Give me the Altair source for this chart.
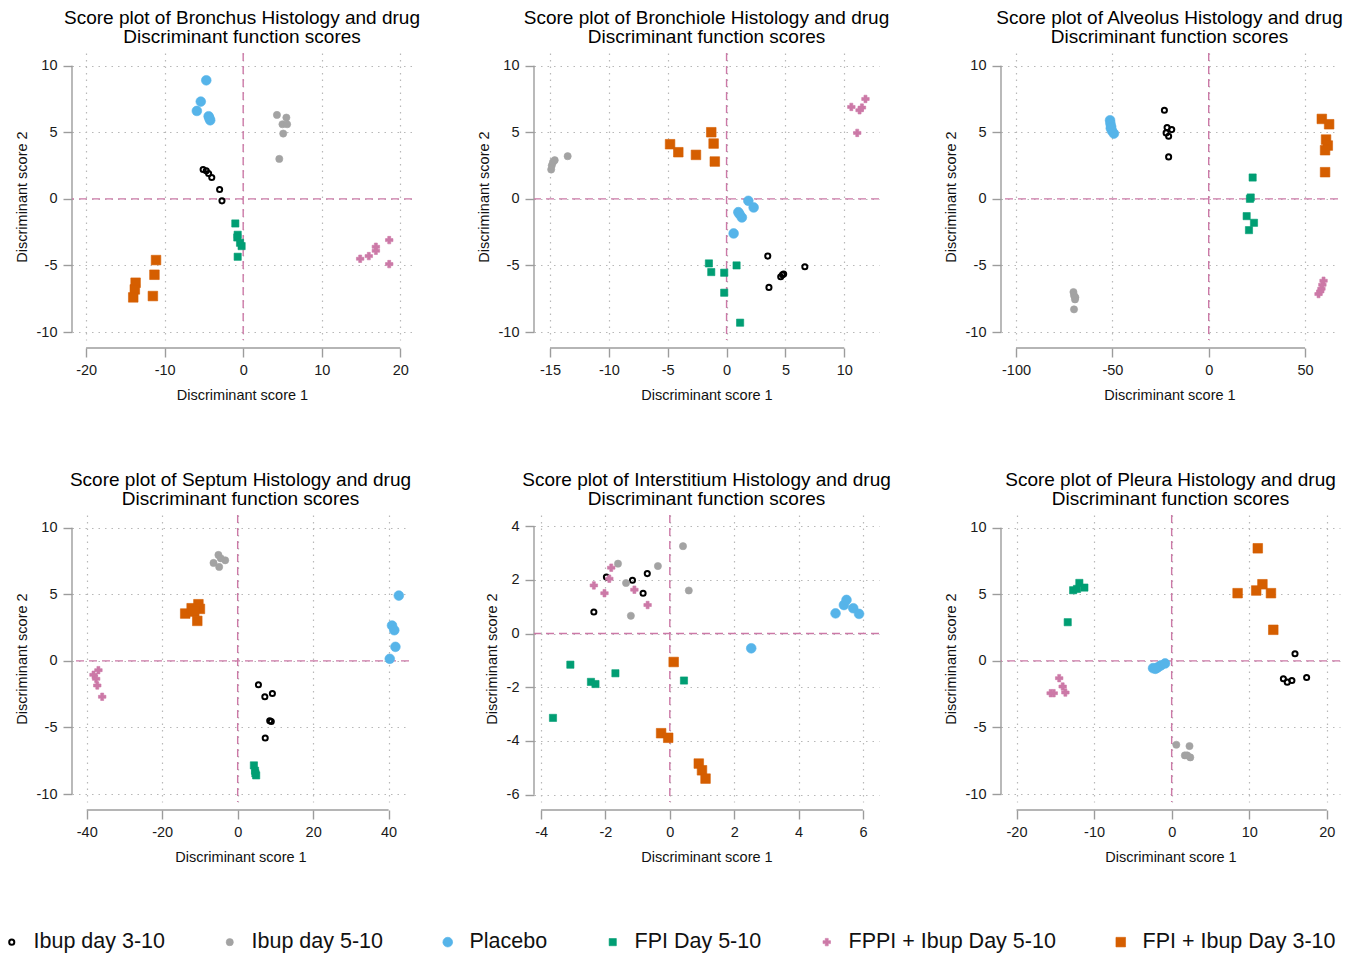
import altair as alt
import pandas as pd

# ---------------- groups / legend ----------------
GROUPS = ["Ibup day 3-10", "Ibup day 5-10", "Placebo", "FPI Day 5-10",
          "FPPI + Ibup Day 5-10", "FPI + Ibup Day 3-10"]
CODES = ["I3", "I5", "P", "F5", "FP", "FI"]
SHAPES = ["circle", "circle", "circle", "square", "cross", "square"]
FILLS = ["transparent", "#a3a3a3", "#56b4e9", "#009e73", "#cc79a7", "#d55e00"]
STROKES = ["#000000", "#a3a3a3", "#56b4e9", "#009e73", "#cc79a7", "#d55e00"]
SIZES = [26, 52, 95, 52, 56, 92]
STROKE_W = [2.0, 0.6, 0.6, 0.6, 0.6, 0.6]

# ---------------- data ----------------
bronchus_x = [-5.1, -4.7, -4.4, -4.0, -3.0, -2.7,
              4.3, 5.5, 5.0, 5.6, 5.1, 4.6,
              -4.7, -5.4, -5.9, -4.4, -4.2, -4.3,
              -1.0, -0.7, -0.75, -0.4, -0.2, -0.7,
              14.9, 16.0, 16.9, 16.9, 18.6, 18.6,
              -11.1, -11.3, -13.7, -13.8, -14.0, -11.5]
bronchus_y = [2.2, 2.1, 1.9, 1.6, 0.7, -0.15,
              6.3, 6.1, 5.6, 5.6, 4.9, 3.0,
              8.9, 7.3, 6.6, 6.2, 5.9, 6.05,
              -1.85, -2.7, -2.9, -3.3, -3.55, -4.35,
              -4.5, -4.3, -3.6, -3.9, -3.1, -4.9,
              -4.6, -5.7, -6.3, -6.8, -7.4, -7.3]
bronchus_g = ["I3"] * 6 + ["I5"] * 6 + ["P"] * 6 + ["F5"] * 6 + ["FP"] * 6 + ["FI"] * 6

bronchiole_x = [3.5, 3.6, 4.6, 4.75, 4.85, 6.65,
                -14.9, -14.85, -14.75, -14.6, -13.5,
                1.85, 2.3, 1.0, 1.3, 1.1, 0.6,
                -1.5, -1.3, -0.2, 0.85, -0.2, 1.15,
                10.6, 11.3, 11.5, 11.8, 11.1,
                -4.8, -4.1, -2.6, -1.3, -1.1, -1.0]
bronchiole_y = [-4.3, -6.65, -5.85, -5.7, -5.65, -5.1,
                2.2, 2.5, 2.75, 2.9, 3.2,
                -0.15, -0.65, -1.0, -1.4, -1.15, -2.6,
                -4.85, -5.5, -5.55, -5.0, -7.05, -9.3,
                6.9, 6.65, 6.85, 7.5, 4.95,
                4.1, 3.5, 3.3, 5.0, 4.15, 2.8]
bronchiole_g = ["I3"] * 6 + ["I5"] * 5 + ["P"] * 6 + ["F5"] * 6 + ["FP"] * 5 + ["FI"] * 6

alveolus_x = [-23.0, -21.6, -19.2, -22.1, -20.8, -20.8,
              -70.2, -69.9, -69.4, -69.2, -69.9,
              -51.2, -51.0, -50.6, -50.2, -49.2, -50.8,
              22.8, 21.8, 21.4, 19.7, 23.5, 20.9,
              59.6, 59.0, 58.5, 57.9, 57.0,
              58.7, 62.5, 60.9, 61.8, 60.4, 60.4]
alveolus_y = [6.65, 5.35, 5.2, 4.95, 4.7, 3.15,
              -7.0, -7.25, -7.55, -7.4, -8.3,
              5.9, 5.65, 5.4, 5.1, 4.9, 5.3,
              1.6, 0.1, 0.0, -1.3, -1.8, -2.35,
              -6.15, -6.45, -6.75, -6.95, -7.15,
              6.0, 5.6, 4.45, 4.0, 3.65, 2.0]
alveolus_g = ["I3"] * 6 + ["I5"] * 5 + ["P"] * 6 + ["F5"] * 6 + ["FP"] * 5 + ["FI"] * 6

septum_x = [5.5, 7.2, 9.2, 8.5, 8.9, 7.3,
            -5.1, -3.3, -6.4, -4.9, -4.5,
            42.7, 40.9, 41.5, 41.8, 40.3,
            4.3, 4.6, 4.9, 4.7,
            -36.9, -38.2, -37.5, -37.2, -35.9,
            -13.9, -12.2, -10.4, -10.0, -10.7, -11.5]
septum_y = [-1.8, -2.7, -2.45, -4.5, -4.55, -5.8,
            7.95, 7.55, 7.35, 7.05, 7.7,
            4.9, 2.65, 2.3, 1.05, 0.15,
            -7.85, -8.25, -8.6, -8.45,
            -0.7, -1.05, -1.35, -1.85, -2.7,
            3.55, 3.95, 4.25, 3.9, 3.0, 3.7]
septum_g = ["I3"] * 6 + ["I5"] * 5 + ["P"] * 5 + ["F5"] * 4 + ["FP"] * 5 + ["FI"] * 6

interstitium_x = [-2.36, -1.97, -1.16, -0.7, -0.83,
                  -1.61, 0.41, -0.37, -1.36, 0.59, -1.21,
                  5.15, 5.41, 5.49, 5.7, 5.88, 2.53,
                  -3.09, -3.63, -2.45, -2.31, -1.69, 0.44,
                  -2.36, -2.03, -1.82, -1.88, -1.1, -0.69,
                  0.12, -0.27, -0.05, 0.9, 1.0, 1.11]
interstitium_y = [0.8, 2.1, 1.98, 2.23, 1.5,
                  2.6, 3.25, 2.51, 1.88, 1.6, 0.66,
                  0.75, 1.06, 1.25, 0.94, 0.73, -0.55,
                  -1.16, -3.14, -1.8, -1.88, -1.48, -1.75,
                  1.79, 1.5, 2.45, 2.04, 1.63, 1.06,
                  -1.06, -3.71, -3.88, -4.84, -5.09, -5.4]
interstitium_g = ["I3"] * 5 + ["I5"] * 6 + ["P"] * 6 + ["F5"] * 6 + ["FP"] * 6 + ["FI"] * 6

pleura_x = [15.9, 14.4, 14.9, 15.5, 17.4,
            0.6, 2.3, 1.7, 2.4, 2.0,
            -2.4, -1.8, -1.4, -0.85, -2.1,
            -13.4, -12.7, -11.9, -11.25, -12.2,
            -14.5, -15.6, -15.2, -14.05, -13.7,
            11.1, 8.5, 10.9, 11.7, 12.8, 13.1]
pleura_y = [0.53, -1.35, -1.6, -1.48, -1.25,
            -6.3, -6.4, -7.1, -7.25, -7.1,
            -0.55, -0.5, -0.35, -0.2, -0.6,
            2.9, 5.3, 5.85, 5.5, 5.4,
            -1.3, -2.43, -2.43, -1.93, -2.38,
            8.45, 5.08, 5.28, 5.75, 5.08, 2.33]
pleura_g = ["I3"] * 5 + ["I5"] * 5 + ["P"] * 5 + ["F5"] * 5 + ["FP"] * 5 + ["FI"] * 6

# tick values per panel
ticks_y10 = [-10, -5, 0, 5, 10]
bronchus_xt = [-20, -10, 0, 10, 20]
bronchiole_xt = [-15, -10, -5, 0, 5, 10]
alveolus_xt = [-100, -50, 0, 50]
septum_xt = [-40, -20, 0, 20, 40]
interstitium_xt = [-4, -2, 0, 2, 4, 6]
interstitium_yt = [-6, -4, -2, 0, 2, 4]
pleura_xt = [-20, -10, 0, 10, 20]

# ---------------- style ----------------
FONT = "Liberation Sans"
AXIS_GRAY = "#9c9c9c"
GRID_GRAY = "#b8b8b8"
REF_PINK = "#cc79a7"
H = 287
XOFF = 8
MINUS = "replace(datum.label, '\u2212', '-')"


def panel(name, xs, ys, gs, xdom, xticks, ydom, yticks, width):
    df = pd.DataFrame({"x": xs, "y": ys,
                       "group": [GROUPS[CODES.index(c)] for c in gs]})
    one = pd.DataFrame({"k": [0]})
    xsc = alt.Scale(domain=xdom, nice=False, zero=False)
    ysc = alt.Scale(domain=ydom, nice=False, zero=False)
    xaxis = alt.Axis(values=xticks, title="Discriminant score 1", domain=False,
                     offset=XOFF, grid=True, tickSize=9, labelPadding=6,
                     titlePadding=12, labelExpr=MINUS)
    yaxis = alt.Axis(values=yticks, title="Discriminant score 2", domain=False,
                     grid=True, tickSize=9, labelPadding=6, titlePadding=7,
                     labelExpr=MINUS)
    leg = alt.Legend(title=None)
    pts = alt.Chart(df).mark_point(filled=True, opacity=1).encode(
        x=alt.X("x:Q", scale=xsc, axis=xaxis),
        y=alt.Y("y:Q", scale=ysc, axis=yaxis),
        shape=alt.Shape("group:N", scale=alt.Scale(domain=GROUPS, range=SHAPES), legend=leg, title=None),
        fill=alt.Fill("group:N", scale=alt.Scale(domain=GROUPS, range=FILLS), legend=leg, title=None),
        stroke=alt.Stroke("group:N", scale=alt.Scale(domain=GROUPS, range=STROKES), legend=leg, title=None),
        size=alt.Size("group:N", scale=alt.Scale(type="ordinal", domain=GROUPS, range=SIZES), legend=leg, title=None),
        strokeWidth=alt.StrokeWidth("group:N", scale=alt.Scale(type="ordinal", domain=GROUPS, range=STROKE_W), legend=leg, title=None),
    )
    xline = alt.Chart(one).mark_rule(color=AXIS_GRAY, strokeWidth=1.4).encode(
        x=alt.datum(xticks[0]), x2=alt.datum(xticks[-1]), y=alt.value(H + XOFF))
    yline = alt.Chart(one).mark_rule(color=AXIS_GRAY, strokeWidth=1.4).encode(
        y=alt.datum(yticks[0]), y2=alt.datum(yticks[-1]), x=alt.value(0))
    zx = alt.Chart(one).mark_rule(color=REF_PINK, strokeDash=[8, 5], strokeWidth=1.4).encode(
        x=alt.datum(0))
    zy = alt.Chart(one).mark_rule(color=REF_PINK, strokeDash=[8, 5], strokeWidth=1.4).encode(
        y=alt.datum(0))
    title = alt.TitleParams(
        text=["Score plot of " + name + " Histology and drug", "Discriminant function scores"],
        fontSize=19, font=FONT, fontWeight="normal", color="#000000",
        anchor="middle", lineHeight=19.5, offset=5)
    return alt.layer(xline, yline, zx, zy, pts).properties(width=width, height=H, title=title)


p1 = panel("Bronchus", bronchus_x, bronchus_y, bronchus_g, [-21.8, 21.5], bronchus_xt,
           [-10.6, 10.95], ticks_y10, 340)
p2 = panel("Bronchiole", bronchiole_x, bronchiole_y, bronchiole_g, [-16.36, 12.95], bronchiole_xt,
           [-10.6, 10.95], ticks_y10, 345)
p3 = panel("Alveolus", alveolus_x, alveolus_y, alveolus_g, [-107.8, 67.1], alveolus_xt,
           [-10.6, 10.95], ticks_y10, 337)
p4 = panel("Septum", septum_x, septum_y, septum_g, [-43.9, 45.4], septum_xt,
           [-10.6, 10.95], ticks_y10, 337)
p5 = panel("Interstitium", interstitium_x, interstitium_y, interstitium_g, [-4.22, 6.5], interstitium_xt,
           [-6.27, 4.41], interstitium_yt, 345)
p6 = panel("Pleura", pleura_x, pleura_y, pleura_g, [-22.0, 21.7], pleura_xt,
           [-10.6, 10.95], ticks_y10, 339)

chart = alt.concat(
    p1, p2, p3, p4, p5, p6, columns=3, bounds="flush",
    spacing={"row": 175, "column": 122},
).properties(
    padding={"left": -7, "top": 0, "right": 5, "bottom": 5}
).configure_view(
    stroke=None
).configure_axis(
    labelFont=FONT, titleFont=FONT, labelFontSize=14.5, titleFontSize=14.5,
    labelColor="#1a1a1a", titleColor="#111111", titleFontWeight="normal",
    tickColor=AXIS_GRAY, tickWidth=1.4, gridColor=GRID_GRAY, gridDash=[1.5, 5],
    gridWidth=1.2, gridOpacity=1,
).configure_legend(
    orient="none", legendX=-71, legendY=878, direction="horizontal", columns=6,
    labelFont=FONT, labelFontSize=21.5, labelColor="#111111", labelOffset=11,
    columnPadding=54, labelLimit=400, padding=0,
)

chart.save("out.html", embed_options={"renderer": "svg", "actions": False})
